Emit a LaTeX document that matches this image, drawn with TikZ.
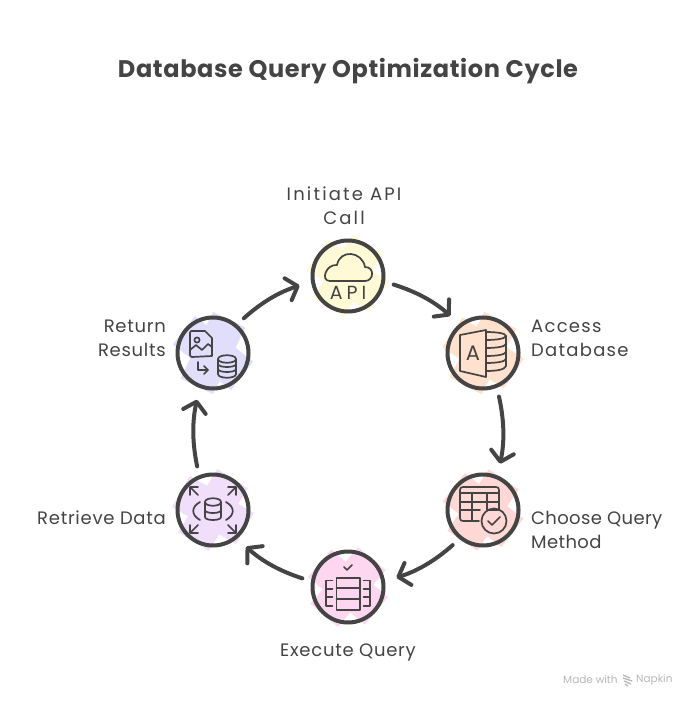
\documentclass[tikz,border=0pt]{standalone}
\usepackage{fontspec}
\setmainfont{Poppins}
\usetikzlibrary{arrows.meta,calc}
\definecolor{ink}{HTML}{444444}
\definecolor{c1}{RGB}{255,249,214}
\definecolor{c2}{RGB}{255,225,205}
\definecolor{c3}{RGB}{255,216,214}
\definecolor{c4}{RGB}{255,214,240}
\definecolor{c5}{RGB}{241,222,251}
\definecolor{c6}{RGB}{225,222,252}
\tikzset{
  x=1pt,y=1pt,
  stage/.style={circle,draw=ink,line width=4pt,minimum size=71pt,inner sep=0pt,fill=none},
  flow/.style={draw=ink,line width=4pt,line cap=round,bend left=12,shorten <=9pt,shorten >=12pt,
    -{Straight Barb[length=10pt,width=23pt,round]}},
  lab/.style={text=ink,font=\fontsize{18}{24}\selectfont\addfontfeature{LetterSpace=#1},inner sep=0pt},
  lab/.default=4,
  mini/.style={text=black!28,font=\fontsize{10.5}{12}\selectfont,inner sep=0pt,anchor=west},
  icon/.style={draw=ink,line width=1.7pt,line cap=round,line join=round}
}
\newcommand{\blobpair}[5]{%
  \fill[#5,rotate around={#3:(#1,#2)}] ($(#1,#2)+(-37,-18)$) rectangle ($(#1,#2)+(37,18)$);
  \fill[#5,rotate around={#4:(#1,#2)}] ($(#1,#2)+(-37,-18)$) rectangle ($(#1,#2)+(37,18)$);
}
\begin{document}
\begin{tikzpicture}
\useasboundingbox (0,0) rectangle (696,-708);
\fill[white] (0,0) rectangle (696,-708);
% colour patches
\blobpair{348}{-276}{-35}{58}{c1}
\blobpair{483}{-353}{-34}{62}{c2}
\blobpair{483}{-510}{-38}{56}{c3}
\blobpair{348}{-587}{-40}{50}{c4}
\blobpair{213}{-510}{-30}{58}{c5}
\blobpair{213}{-353}{-38}{64}{c6}
% stages
\node[stage] (n1) at (348,-276) {};
\node[stage] (n2) at (483,-353) {};
\node[stage] (n3) at (483,-510) {};
\node[stage] (n4) at (348,-587) {};
\node[stage] (n5) at (213,-510) {};
\node[stage] (n6) at (213,-353) {};
% connectors
\draw[flow] (n1.-9) to (n2.129);
\draw[flow] (n2.-68) to (n3.67);
\draw[flow] (n3.231) to (n4.9);
\draw[flow] (n4.171) to (n5.-50);
\draw[flow] (n5.112) to (n6.249);
\draw[flow] (n6.50) to (n1.189);
% title and labels
\node[text=ink,font=\fontsize{24}{28}\selectfont\bfseries\addfontfeature{LetterSpace=2.6},inner sep=0pt] (title) at (348,-71) {Database Query Optimization Cycle};
\node[lab=12,align=center] (l1) at (344,-206) {Initiate API\\Call};
\node[lab=7,align=left,anchor=west] (l2) at (531,-338) {Access\\Database};
\node[lab=2,align=left,anchor=west] (l3) at (531,-530) {Choose Query\\Method};
\node[lab] (l4) at (348,-652) {Execute Query};
\node[lab,anchor=east] (l5) at (166,-518) {Retrieve Data};
\node[lab,align=right,anchor=east] (l6) at (166,-338) {Return\\Results};
\node[mini] (wm1) at (563,-680) {Made with};
\node[mini] (wm2) at (636,-680) {Napkin};
\draw[black!28,line width=1.3pt] (623,-675)--(630,-678) (623,-678)--(632,-681) (624,-681)--(631,-684) (625,-684)--(628,-686);
% icon: API cloud
\begin{scope}[shift={(348,-276)}]
\draw[icon] (-18,-5) -- (17,-5) .. controls (26,-5) and (27,9) .. (17,9)
  .. controls (14,25) and (-8,27) .. (-11,11) .. controls (-22,12) and (-28,-5) .. (-18,-5) -- cycle;
\node[text=ink,font=\fontsize{19}{19}\selectfont,inner sep=0pt] (apitxt) at (0,-17) {A\kern4pt P\kern4pt I};
\end{scope}
% icon: access database
\begin{scope}[shift={(483,-353)}]
\draw[icon] (-23,18) -- (3,23) -- (3,-24) -- (-23,-18) -- cycle;
\node[text=ink,font=\fontsize{21}{21}\selectfont,inner sep=0pt] (atxt) at (-10,0) {A};
\draw[icon] (3,13) .. controls (12,13) and (22,14) .. (23,17) .. controls (23,20) and (12,21) .. (3,21);
\draw[icon] (23,17) -- (23,-13) .. controls (22,-17) and (12,-18) .. (3,-18);
\draw[icon] (3,5) .. controls (12,5) and (22,6) .. (23,9);
\draw[icon] (3,-3) .. controls (12,-3) and (22,-2) .. (23,1);
\draw[icon] (3,-10) .. controls (12,-10) and (22,-9) .. (23,-6);
\end{scope}
% icon: table with check
\begin{scope}[shift={(483,-510)}]
\draw[icon] (-4,-11) -- (-20,-11) .. controls (-22,-11) and (-23,-10) .. (-23,-8) -- (-23,20) .. controls (-23,22) and (-22,23) .. (-20,23)
 -- (13,23) .. controls (15,23) and (16,22) .. (16,20) -- (16,0);
\draw[icon] (-23,17) -- (16,17) (-23,8) -- (16,8) (-23,0) -- (-3,0) (5,0) -- (16,0);
\draw[icon] (-11,17) -- (-11,-11) (4,17) -- (4,0);
\draw[icon] (11,-11) circle (12.5);
\draw[icon] (5,-11) -- (9,-15) -- (17,-7);
\end{scope}
% icon: execute
\begin{scope}[shift={(348,-587)}]
\draw[icon] (-4,20) -- (-1,17) -- (4,22);
\draw[icon] (-11.5,9) rectangle (12,-23);
\draw[icon] (-11.5,-1) -- (12,-1) (-11.5,-12) -- (12,-12);
\draw[icon] (-15.5,6.5) -- (-22,6.5) -- (-22,-19) -- (-15.5,-19) (-22,-2) -- (-15.5,-2) (-22,-10) -- (-15.5,-10);
\draw[icon] (15.5,6.5) -- (22,6.5) -- (22,-19) -- (15.5,-19) (22,-2) -- (15.5,-2) (22,-10) -- (15.5,-10);
\end{scope}
% icon: retrieve
\begin{scope}[shift={(213,-510)}]
\draw[icon] (-8,8) .. controls (-8,13) and (8,13) .. (8,8) .. controls (8,3) and (-8,3) .. (-8,8) -- (-8,-7) .. controls (-8,-11) and (8,-11) .. (8,-7) -- (8,8);
\draw[icon] (-8,0) .. controls (-8,-4) and (8,-4) .. (8,0);
\draw[icon] (-13,8) .. controls (-22,3) and (-22,-5) .. (-13,-10);
\draw[icon] (13,8) .. controls (22,3) and (22,-5) .. (13,-10);
\draw[icon] (-15,15) -- (-23,23) (-23,15) -- (-23,23) -- (-15,23);
\draw[icon] (15,15) -- (23,23) (23,15) -- (23,23) -- (15,23);
\draw[icon] (-15,-15) -- (-23,-23) (-23,-15) -- (-23,-23) -- (-15,-23);
\draw[icon] (15,-15) -- (23,-23) (23,-15) -- (23,-23) -- (15,-23);
\end{scope}
% icon: return results
\begin{scope}[shift={(213,-353)}]
\draw[icon] (-23,20) .. controls (-23,22) and (-22,22) .. (-21,22) -- (-8,22) -- (-1,15) -- (-1,-3) -- (-21,-4) .. controls (-22,-4) and (-23,-3) .. (-23,-2) -- cycle;
\draw[icon] (-16,13) circle (2.6);
\draw[icon] (-23,3) -- (-17,8) -- (-11,3) -- (-5,9) -- (-1,6);
\draw[icon] (-15,-9) -- (-15,-17) -- (-5,-17) (-9,-13) -- (-5,-17) -- (-9,-21);
\draw[icon] (5,-6) .. controls (5,-1) and (23,-1) .. (23,-6) .. controls (23,-11) and (5,-11) .. (5,-6) -- (5,-21) .. controls (5,-26) and (23,-26) .. (23,-21) -- (23,-6);
\draw[icon] (5,-11) .. controls (5,-15) and (23,-15) .. (23,-11);
\draw[icon] (5,-16) .. controls (5,-20) and (23,-20) .. (23,-16);
\end{scope}
\end{tikzpicture}
\end{document}
